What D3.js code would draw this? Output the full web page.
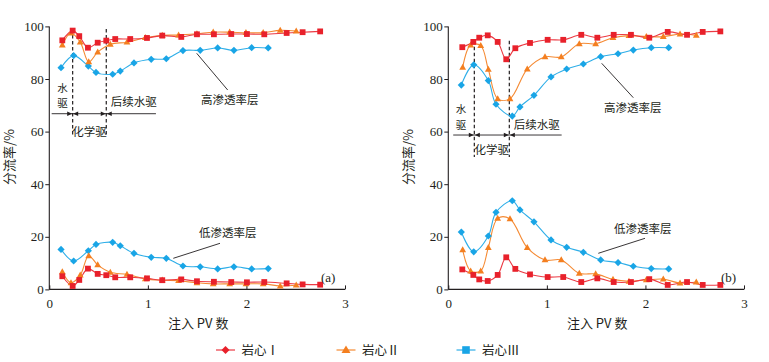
<!DOCTYPE html>
<html><head><meta charset="utf-8">
<script src="https://cdn.jsdelivr.net/npm/d3@7"></script>
<style>
body{margin:0;background:#fff;}
svg{display:block;}
</style></head>
<body><svg id="c" width="769" height="362"></svg>
<script>
// ---------- data ----------
const xTicks = [0, 1, 2, 3];
const yTicks = [0, 20, 40, 60, 80, 100];
const seriesNames = ["岩心Ⅰ", "岩心Ⅱ", "岩心Ⅲ"];

// Panel (a)
const aX1 = [0.132,0.237,0.304,0.392,0.491,0.578,0.669,0.821,0.991,1.146,1.339,1.498,1.670,1.846,2.005,2.181,2.408,2.570,2.748];
const aHigh1 = [94.7,98.4,96.3,91.9,93.8,94.6,95.2,95.2,95.6,96.5,96.0,97.0,97.0,97.1,97.1,97.0,97.5,97.8,98.1];
const aLow1  = [5.0,1.3,3.6,7.9,5.9,5.4,4.6,4.6,4.2,3.5,3.8,3.1,2.9,2.8,2.7,2.8,2.3,1.9,1.8];
const aX2 = [0.132,0.220,0.314,0.400,0.491,0.619,0.788,0.974,1.146,1.312,1.498,1.663,1.830,1.995,2.170,2.343,2.505];
const aHigh2 = [92.9,97.5,94.0,86.5,90.2,93.2,94.0,95.7,96.6,96.7,97.2,97.8,97.8,97.6,97.6,98.5,98.2];
const aLow2  = [6.7,2.5,5.4,12.8,9.3,6.5,5.7,4.0,3.5,3.3,2.5,2.1,2.1,2.1,2.1,1.3,1.6];
const aX3 = [0.119,0.247,0.396,0.474,0.643,0.720,0.859,1.034,1.187,1.356,1.531,1.708,1.873,2.053,2.221];
const aHigh3 = [84.3,88.9,84.9,82.5,81.8,83.0,86.1,87.5,87.7,90.8,90.9,91.8,90.9,91.9,91.8];
const aLow3  = [15.2,10.8,14.7,17.1,17.9,16.6,13.7,12.2,11.8,8.9,8.6,7.8,8.6,7.8,7.9];

// Panel (b)
const bX1 = [0.142,0.254,0.314,0.400,0.501,0.588,0.680,0.829,1.008,1.166,1.349,1.512,1.678,1.853,2.039,2.226,2.422,2.581,2.760];
const bHigh1 = [92.1,94.1,95.7,96.6,94.1,87.5,91.7,93.7,94.9,94.9,96.8,95.7,96.8,96.8,95.7,97.9,96.8,97.9,98.1];
const bLow1  = [7.6,5.5,3.8,3.2,5.5,12.2,7.8,5.7,4.7,4.7,2.8,4.2,2.8,2.8,3.9,1.7,2.8,1.7,1.7];
const bX2 = [0.146,0.227,0.329,0.406,0.501,0.626,0.801,0.981,1.146,1.329,1.495,1.671,1.833,2.009,2.181,2.351,2.516];
const bHigh2 = [84.4,92.9,92.7,83.7,72.5,72.5,83.8,88.4,88.4,93.4,93.4,95.7,96.5,96.1,96.1,97.1,96.6];
const bLow2  = [15.0,7.0,7.0,15.9,27.0,26.8,15.9,11.2,11.2,6.1,5.9,3.8,3.1,3.6,3.9,2.4,2.8];
const bX3 = [0.132,0.258,0.406,0.484,0.649,0.727,0.869,1.042,1.201,1.370,1.546,1.722,1.877,2.059,2.236];
const bHigh3 = [77.7,85.4,79.4,70.4,65.9,69.4,73.8,80.8,83.8,85.7,88.5,89.6,91.0,91.9,91.9];
const bLow3  = [21.8,14.3,20.3,29.3,33.7,30.2,25.7,18.8,16.0,14.1,11.2,10.2,8.8,7.9,7.8];

// ---------- styles ----------
const colors = ["#e8212b", "#f47f20", "#19a5e6"];
const lineColors = ["#ec3a43", "#f58a33", "#2eaee8"];
const SERIF = '"Liberation Serif", "Noto Sans CJK SC", serif';
const CJK = '"Noto Sans CJK SC", "Liberation Serif", sans-serif';
const INK = "#231f20";

const svg = d3.select("#c");

function txt(g, x, y, s, size, fam) {
  return g.append("text").attr("x", x).attr("y", y).style("font-family", fam || CJK)
    .style("font-size", size + "px").attr("fill", INK).text(s);
}

function marker(g, type, x, y, color) {
  if (type === 0) {
    g.append("rect").attr("x", x - 2.9).attr("y", y - 2.9).attr("width", 5.8).attr("height", 5.8).attr("fill", color);
  } else if (type === 1) {
    g.append("path").attr("d", `M${x},${y-3.6}L${x+3.4},${y+2.4}L${x-3.4},${y+2.4}Z`).attr("fill", color);
  } else {
    g.append("path").attr("d", `M${x},${y-3.6}L${x+3.6},${y}L${x},${y+3.6}L${x-3.6},${y}Z`).attr("fill", color);
  }
}

function panel(cfg) {
  const x = d3.scaleLinear().domain([0, 3]).range([cfg.x0, cfg.x1]);
  const y = d3.scaleLinear().domain([0, 100]).range([289.4, 26.4]);
  const g = svg.append("g");

  // axes
  const ya = g.append("g").attr("transform", `translate(${cfg.x0},0)`)
    .call(d3.axisLeft(y).tickValues(yTicks).tickFormat(d3.format("d")).tickSize(4).tickPadding(1.5));
  const xa = g.append("g").attr("transform", `translate(0,${y(0)})`)
    .call(d3.axisBottom(x).tickValues(xTicks).tickFormat(d3.format("d")).tickSize(-4).tickPadding(9));
  [ya, xa].forEach(a => {
    a.select(".domain").attr("stroke", INK).attr("stroke-width", 1.1);
    a.selectAll(".tick line").attr("stroke", INK);
    a.selectAll("text").style("font-size", "13px").style("font-family", SERIF).attr("fill", INK);
  });
  ya.select(".domain").attr("d", `M0,${y(0)}V${y(100)}`);
  xa.select(".domain").attr("d", `M${cfg.x0},0H${cfg.x1}`);

  // axis titles
  txt(g, 0, 0, "分流率/%", 13).attr("transform", `translate(${cfg.titleX},157) rotate(-90)`)
    .attr("text-anchor", "middle").attr("dominant-baseline", "central");
  txt(g, (cfg.x0 + cfg.x1) / 2 + 1, 328, "注入 PV 数", 13).attr("text-anchor", "middle");

  // dashed phase lines
  cfg.phase.forEach(v => {
    g.append("line").attr("x1", x(v)).attr("x2", x(v)).attr("y1", y(cfg.dashTop)).attr("y2", y(cfg.dashBot))
      .attr("stroke", INK).attr("stroke-width", 1.2).attr("stroke-dasharray", "3.5,2.5");
  });
  // arrows
  const ay = y(cfg.arrowY);
  const segs = [[cfg.arrowL, cfg.phase[0], false, true], [cfg.phase[0], cfg.phase[1], true, true], [cfg.phase[1], cfg.arrowR, true, false]];
  segs.forEach(([a, b, hs, he]) => {
    const xa0 = x(a), xb0 = x(b);
    g.append("line").attr("x1", xa0).attr("x2", xb0).attr("y1", ay).attr("y2", ay).attr("stroke", INK).attr("stroke-width", 0.9);
    if (hs) g.append("path").attr("d", `M${xa0+0.5},${ay}L${xa0+5.5},${ay-2.2}L${xa0+5.5},${ay+2.2}Z`).attr("fill", INK);
    if (he) g.append("path").attr("d", `M${xb0-0.5},${ay}L${xb0-5.5},${ay-2.2}L${xb0-5.5},${ay+2.2}Z`).attr("fill", INK);
  });
  // phase labels
  const fs = 11.5;
  txt(g, cfg.waterX, cfg.waterY, "水", 10.5).attr("text-anchor", "middle");
  txt(g, cfg.waterX, cfg.waterY + 15.4, "驱", 10.5).attr("text-anchor", "middle");
  txt(g, (x(cfg.phase[0]) + x(cfg.phase[1])) / 2, cfg.chemY, "化学驱", fs).attr("text-anchor", "middle");
  txt(g, x(cfg.phase[1]) + 4.5, cfg.postY, "后续水驱", fs);

  // series
  const line = d3.line().x(d => x(d[0])).y(d => y(d[1])).curve(d3.curveCatmullRom.alpha(0.5));
  const order = [2, 1, 0];
  order.forEach(i => {
    const xs = cfg.xs[i];
    [cfg.high[i], cfg.low[i]].forEach(vals => {
      const pts = xs.map((v, k) => [v, vals[k]]);
      g.append("path").attr("d", line(pts)).attr("fill", "none").attr("stroke", lineColors[i]).attr("stroke-width", 1.1);
    });
  });
  order.forEach(i => {
    const xs = cfg.xs[i];
    [cfg.high[i], cfg.low[i]].forEach(vals => {
      xs.forEach((v, k) => marker(g, i, x(v), y(vals[k]), colors[i]));
    });
  });

  // layer labels & leaders
  g.append("line").attr("x1", cfg.hiLead[0]).attr("y1", cfg.hiLead[1]).attr("x2", cfg.hiLead[2]).attr("y2", cfg.hiLead[3]).attr("stroke", INK).attr("stroke-width", 0.9);
  txt(g, cfg.hiLab[0], cfg.hiLab[1], "高渗透率层", fs);
  g.append("line").attr("x1", cfg.loLead[0]).attr("y1", cfg.loLead[1]).attr("x2", cfg.loLead[2]).attr("y2", cfg.loLead[3]).attr("stroke", INK).attr("stroke-width", 0.9);
  txt(g, cfg.loLab[0], cfg.loLab[1], "低渗透率层", fs);
  txt(g, cfg.tag[0], cfg.tag[1], cfg.tagText, 13, SERIF);
}

panel({
  x0: 49.3, x1: 345, titleX: 8,
  xs: [aX1, aX2, aX3], high: [aHigh1, aHigh2, aHigh3], low: [aLow1, aLow2, aLow3],
  phase: [0.237, 0.578], dashTop: 99, dashBot: 58.5, arrowY: 66.8, arrowL: 0.024, arrowR: 1.082,
  waterX: 62.5, waterY: 91.5, chemY: 136, postY: 105.5,
  hiLead: [196.7, 53.3, 227.7, 90], hiLab: [201, 104],
  loLead: [173.3, 258.3, 220, 243.3], loLab: [199, 237],
  tag: [321, 281.5], tagText: "(a)"
});
panel({
  x0: 448.3, x1: 744, titleX: 407,
  xs: [bX1, bX2, bX3], high: [bHigh1, bHigh2, bHigh3], low: [bLow1, bLow2, bLow3],
  phase: [0.264, 0.619], dashTop: 94.5, dashBot: 50.3, arrowY: 58.7, arrowL: 0.05, arrowR: 1.15,
  waterX: 461, waterY: 113.3, chemY: 154, postY: 128.5,
  hiLead: [601.7, 63.3, 633.3, 97.7], hiLab: [604, 112],
  loLead: [598.3, 253.3, 645, 238.3], loLab: [614, 233],
  tag: [721, 281.5], tagText: "(b)"
});

// legend
const legX = [216, 336.5, 456.5];
const lg = svg.append("g");
seriesNames.forEach((name, i) => {
  const x0 = legX[i], yy = 350;
  lg.append("line").attr("x1", x0).attr("x2", x0 + 19).attr("y1", yy).attr("y2", yy).attr("stroke", lineColors[i]).attr("stroke-width", 1.2);
  const cx = x0 + 9.5;
  if (i === 0) lg.append("path").attr("d", `M${cx},${yy-4}L${cx+4},${yy}L${cx},${yy+4}L${cx-4},${yy}Z`).attr("fill", colors[i]);
  else if (i === 1) lg.append("path").attr("d", `M${cx},${yy-4.5}L${cx+4.5},${yy+3}L${cx-4.5},${yy+3}Z`).attr("fill", colors[i]);
  else lg.append("rect").attr("x", cx - 3.8).attr("y", yy - 3.8).attr("width", 7.6).attr("height", 7.6).attr("fill", colors[i]);
  txt(lg, x0 + 25.5, yy + 4.5, name, 12.5);
});
</script></body></html>
